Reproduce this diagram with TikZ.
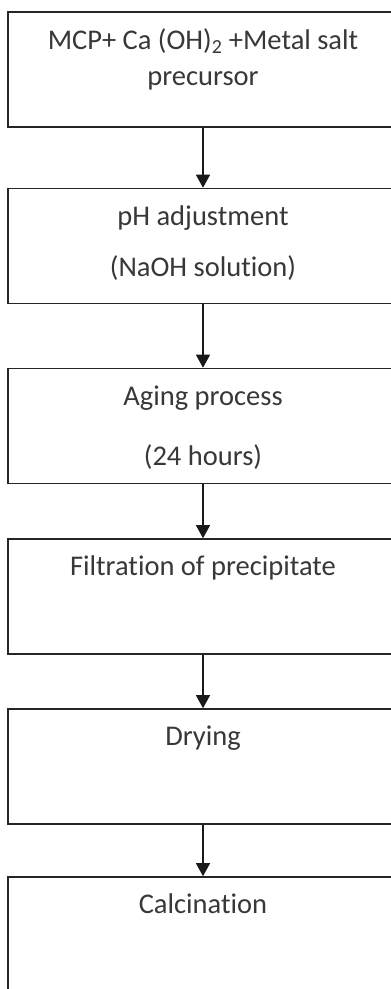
\documentclass[tikz,border=0pt]{standalone}
\usepackage{fontspec}
\setmainfont{Carlito}[Ligatures=NoCommon]
\usetikzlibrary{arrows.meta}
\tikzset{
  stepbox/.style={draw=black!85, line width=1.6pt, minimum width=390pt, minimum height=115pt, inner sep=0pt},
  txt/.style={text=black!78, font=\fontsize{28.5}{33}\selectfont, anchor=base, inner sep=0pt},
  flow/.style={draw=black!90, line width=1.3pt, -{Triangle[width=14pt,length=13pt]}}
}
\begin{document}
\begin{tikzpicture}[x=1pt,y=-1pt]
\useasboundingbox (0,0) rectangle (391,989);
\clip (0,0) rectangle (391,989);
\fill[white] (0,0) rectangle (391,989);

   \node[stepbox] at (203,69.5)  (b1) {};
   \node[stepbox] at (203,246)   (b2) {};
   \node[stepbox] at (203,426)   (b3) {};
   \node[stepbox] at (203,596.5) (b4) {};
   \node[stepbox] at (203,766.5) (b5) {};
   \node[stepbox] at (203,934.5) (b6) {};

   \node[txt] at (203,49)  (t1a) {MCP+ Ca (OH)\textsubscript{2} +Metal salt};
   \node[txt] at (203,85)  (t1b) {precursor};
   \node[txt] at (203,225) (t2a) {pH adjustment};
   \node[txt] at (203,276) (t2b) {(NaOH solution)};
   \node[txt] at (203,405) (t3a) {Aging process};
   \node[txt] at (203,465) (t3b) {(24 hours)};
   \node[txt] at (203,575) (t4)  {Filtration of precipitate};
   \node[txt] at (203,745) (t5)  {Drying};
   \node[txt] at (203,913) (t6)  {Calcination};

   \draw[flow] (b1.south) -- (b2.north);
   \draw[flow] (b2.south) -- (b3.north);
   \draw[flow] (b3.south) -- (b4.north);
   \draw[flow] (b4.south) -- (b5.north);
   \draw[flow] (b5.south) -- (b6.north);

\end{tikzpicture}
\end{document}
